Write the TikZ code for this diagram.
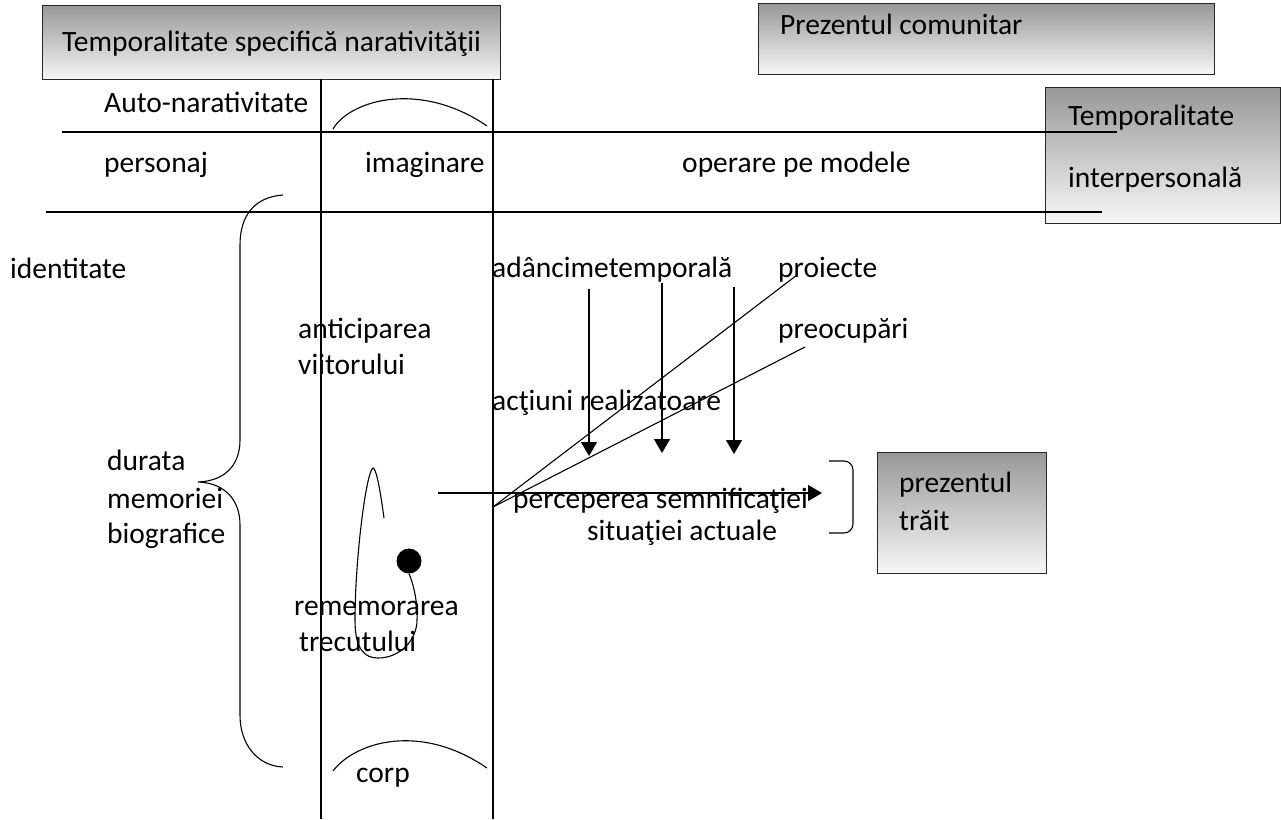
\documentclass[tikz,border=0pt]{standalone}
\usepackage{fontspec}
\setmainfont{Carlito}
\usetikzlibrary{arrows.meta}
\definecolor{boxtop}{RGB}{152,152,152}
\definecolor{boxbot}{RGB}{247,247,247}
\definecolor{boxline}{RGB}{40,40,40}
\tikzset{
  gbox/.style={draw=boxline, line width=1.3pt, top color=boxtop, bottom color=boxbot, anchor=north west, inner sep=0pt},
  lbl/.style={anchor=base west, inner sep=0pt, font=\fontsize{29.5}{35}\selectfont},
  ln/.style={line width=1.4pt},
  thin/.style={line width=1.1pt},
  arr/.style={line width=1.2pt, -{Triangle[length=14pt,width=16pt]}}
}
\begin{document}
\begin{tikzpicture}[x=1pt,y=-1pt]
\useasboundingbox (0,0) rectangle (1281,819);
% boxes
\node[gbox, minimum width=458pt, minimum height=74pt] (b1) at (42,5) {};
\node[gbox, minimum width=456pt, minimum height=71pt] (b2) at (758,3) {};
\node[gbox, minimum width=235pt, minimum height=136pt] (b3) at (1045,87) {};
\node[gbox, minimum width=169pt, minimum height=121pt] (b4) at (877,452) {};
% box texts
\node[lbl] (t1) at (62,51) {Temporalitate specifică narativităţii};
\node[lbl] (t2) at (780,34) {Prezentul comunitar};
\node[lbl] (t3) at (1068,125) {Temporalitate};
\node[lbl] (t4) at (1068,187) {interpersonală};
\node[lbl] (t5) at (899,492) {prezentul};
\node[lbl] (t6) at (899,530) {trăit};
% coordinates
\coordinate (v1t) at (321,79); \coordinate (v1b) at (321,819);
\coordinate (v2t) at (493,79); \coordinate (v2b) at (493,819);
\coordinate (h1a) at (62,132); \coordinate (h1b) at (1117,132);
\coordinate (h2a) at (46,212); \coordinate (h2b) at (1102,212);
% grid lines
\draw[ln] (v1t) -- (v1b);
\draw[ln] (v2t) -- (v2b);
\draw[ln] (h1a) -- (h1b);
\draw[ln] (h2a) -- (h2b);
% header texts
\node[lbl] (an) at (104,112) {Auto-narativitate};
\node[lbl] (pe) at (104,172) {personaj};
\node[lbl] (im) at (365,172) {imaginare};
\node[lbl] (op) at (682,172) {operare pe modele};
% arcs
\coordinate (a1s) at (333,129); \coordinate (a1e) at (487,126);
\draw[thin] (a1s) .. controls (350,100) and (420,80) .. (a1e);
\coordinate (a2s) at (333,771); \coordinate (a2e) at (487,768);
\draw[thin] (a2s) .. controls (355,742) and (420,722) .. (a2e);
% brace
\coordinate (brt) at (283,195); \coordinate (brm) at (198,482); \coordinate (brb) at (283,767);
\draw[thin] (brt) .. controls (255,197) and (240,215) .. (240,245) -- (240,440)
  .. controls (240,465) and (225,481) .. (brm)
  .. controls (225,483) and (240,500) .. (240,525) -- (240,715)
  .. controls (240,745) and (258,766) .. (brb);
% left texts
\node[lbl] (id) at (10,278) {identitate};
\node[lbl] (d1) at (107,470) {durata};
\node[lbl] (d2) at (107,508) {memoriei};
\node[lbl] (d3) at (107,543) {biografice};
\node[lbl] (ant1) at (298,338) {anticiparea};
\node[lbl] (ant2) at (298,374) {viitorului};
\node[lbl] (rem1) at (294,615) {rememorarea};
\node[lbl] (rem2) at (299,651) {trecutului};
\node[lbl] (corp) at (356,782) {corp};
% loop and dot
\node[circle, fill=black, minimum size=25pt, inner sep=0pt] (dot) at (409,561) {};
\coordinate (ls) at (384,518);
\draw[thin] (ls) .. controls (380,488) and (376,468) .. (373,468)
  .. controls (366,472) and (355,560) .. (355,620)
  .. controls (355,650) and (365,658) .. (378,658)
  .. controls (400,658) and (417,640) .. (417,620)
  .. controls (418,600) and (412,580) .. (dot.south);
% right texts
\node[lbl] (adt) at (492,277) {adâncimetemporală};
\node[lbl] (pro) at (778,277) {proiecte};
\node[lbl] (pre) at (778,338) {preocupări};
\node[lbl] (act) at (492,410) {acţiuni realizatoare};
\node[lbl] (per) at (513,508) {perceperea semnificaţiei};
\node[lbl] (sit) at (587,540) {situaţiei actuale};
% diagonals
\coordinate (o) at (493,507);
\coordinate (pk) at (797,275);
\coordinate (rk) at (805,347);
\draw[thin] (o) -- (pk);
\draw[thin] (o) -- (rk);
% vertical arrows
\coordinate (va1) at (589,289); \coordinate (vb1) at (589,456);
\coordinate (va2) at (662,283); \coordinate (vb2) at (662,453);
\coordinate (va3) at (734,287); \coordinate (vb3) at (734,454);
\draw[arr] (va1) -- (vb1);
\draw[arr] (va2) -- (vb2);
\draw[arr] (va3) -- (vb3);
% horizontal arrow
\coordinate (ha) at (438,493); \coordinate (hb) at (822,493);
\draw[arr] (ha) -- (hb);
% right bracket
\coordinate (rba) at (829,461); \coordinate (rbb) at (829,533);
\draw[thin, rounded corners=9pt] (rba) -- (853,461) -- (853,533) -- (rbb);
\end{tikzpicture}
\end{document}
